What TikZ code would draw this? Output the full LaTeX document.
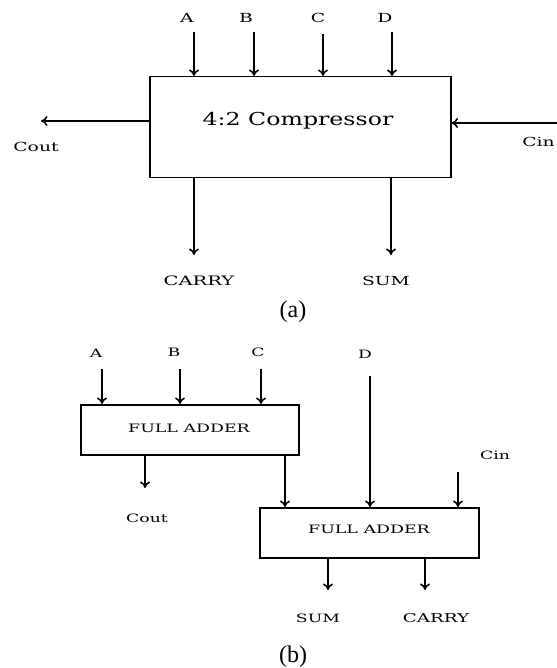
\documentclass[tikz,border=0pt]{standalone}
\usepackage{fontspec}
\setmainfont{Liberation Serif}
\newfontfamily\labfont[FakeStretch=1.5]{DejaVu Serif}
\newfontfamily\boxfont[FakeStretch=1.33]{DejaVu Serif}
\usetikzlibrary{arrows.meta}
\begin{document}
\begin{tikzpicture}[x=1pt,y=-1pt,
  sig/.style={line width=1.6pt,-{To[length=6.5pt,width=10pt]}},
  blk/.style={draw,line width=1.5pt,inner sep=0pt,anchor=north west},
  alab/.style={font=\labfont\fontsize{12.5}{14}\selectfont,inner sep=0pt,text depth=0pt},
  blab/.style={font=\labfont\fontsize{11.5}{13}\selectfont,inner sep=0pt,text depth=0pt},
  figcap/.style={font=\fontsize{24}{28}\selectfont,inner sep=0pt}]
\useasboundingbox (0,0) rectangle (556,668);
% ---------- (a) ----------
\node[blk,minimum width=301pt,minimum height=101pt] (comp) at (149,76) {};
\node[font=\boxfont\fontsize{17.8}{21}\selectfont,inner sep=0pt] (ctext) at (298,121) {4:2 Compressor};
\node[alab] (la) at (187,18) {A};
\node[alab] (lb) at (246,18) {B};
\node[alab] (lc) at (318,18) {C};
\node[alab] (ld) at (385,18) {D};
\coordinate (ia) at (194,32);
\coordinate (ib) at (254,32);
\coordinate (ic) at (323,34);
\coordinate (id) at (392,32);
\draw[sig] (ia) -- (ia |- comp.north);
\draw[sig] (ib) -- (ib |- comp.north);
\draw[sig] (ic) -- (ic |- comp.north);
\draw[sig] (id) -- (id |- comp.north);
\coordinate (coutend) at (41,121);
\draw[sig] (comp.west |- coutend) -- (coutend);
\node[alab] (lcout) at (36,147) {Cout};
\coordinate (cinstart) at (560,123);
\draw[sig] (cinstart) -- (comp.east |- cinstart);
\node[alab,anchor=east] (lcin) at (555,142) {Cin};
\coordinate (carryend) at (194,255);
\coordinate (sumend) at (391,255);
\draw[sig] (comp.south -| carryend) -- (carryend);
\draw[sig] (comp.south -| sumend) -- (sumend);
\node[font=\labfont\fontsize{13}{15}\selectfont,inner sep=0pt,text depth=0pt] (lcarry) at (199,281) {CARRY};
\node[alab] (lsum) at (386,281) {SUM};
\node[figcap] (capa) at (293,312) {(a)};
% ---------- (b) ----------
\node[blk,minimum width=218pt,minimum height=50pt] (fa1) at (80,404) {};
\node[font=\labfont\fontsize{11.6}{13}\selectfont,inner sep=0pt] (fa1t) at (189,428) {FULL ADDER};
\node[blk,minimum width=219pt,minimum height=50pt] (fa2) at (259,507) {};
\node[font=\labfont\fontsize{11.6}{13}\selectfont,inner sep=0pt] (fa2t) at (369,529) {FULL ADDER};
\node[blab] (lba) at (96,353) {A};
\node[blab] (lbb) at (174,352) {B};
\node[blab] (lbc) at (258,352) {C};
\node[blab] (lbd) at (365,354) {D};
\coordinate (ba) at (102,369);
\coordinate (bb) at (180,369);
\coordinate (bc) at (261,369);
\coordinate (bd) at (370,376);
\draw[sig] (ba) -- (ba |- fa1.north);
\draw[sig] (bb) -- (bb |- fa1.north);
\draw[sig] (bc) -- (bc |- fa1.north);
\draw[sig] (bd) -- (bd |- fa2.north);
\coordinate (bcoutend) at (145,488);
\draw[sig] (fa1.south -| bcoutend) -- (bcoutend);
\node[blab] (lbcout) at (147,518) {Cout};
\coordinate (link) at (285,454);
\draw[sig] (fa1.south -| link) -- (link |- fa2.north);
\coordinate (bcin) at (458,472);
\draw[sig] (bcin) -- (bcin |- fa2.north);
\node[blab] (lbcin) at (495,455) {Cin};
\coordinate (bsumend) at (328,590);
\coordinate (bcarryend) at (425,590);
\draw[sig] (fa2.south -| bsumend) -- (bsumend);
\draw[sig] (fa2.south -| bcarryend) -- (bcarryend);
\node[blab] (lbsum) at (318,618) {SUM};
\node[font=\labfont\fontsize{12.2}{14}\selectfont,inner sep=0pt,text depth=0pt] (lbcarry) at (436,618) {CARRY};
\node[figcap] (capb) at (293,657) {(b)};
\end{tikzpicture}
\end{document}
